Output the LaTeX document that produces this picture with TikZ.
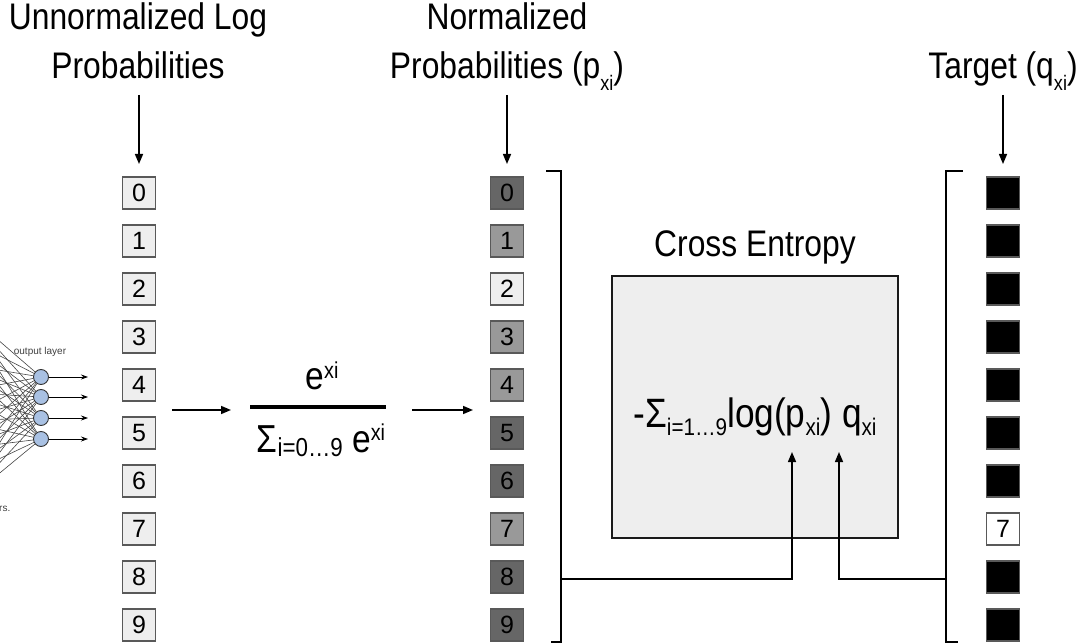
\documentclass[tikz,border=0pt]{standalone}
\usepackage{fontspec}
\setmainfont[FakeStretch=0.86]{Liberation Sans}
\newfontfamily\digitfont{Liberation Sans}
\usetikzlibrary{arrows.meta}

\definecolor{cellborder}{HTML}{595959}
\definecolor{cellpale}{HTML}{EEEEEE}
\definecolor{cellmid}{HTML}{999999}
\definecolor{celldark}{HTML}{666666}
\definecolor{neuron}{HTML}{A9C1E3}
\definecolor{wire}{HTML}{444444}

% text shifted down / up with its own size
\newcommand\lowered[3]{\raisebox{-#1}{\fontsize{#2}{#2}\selectfont #3}}
\newcommand\raised[3]{\raisebox{#1}{\fontsize{#2}{#2}\selectfont #3}}

\tikzset{
  heading/.style={anchor=base, inner sep=0pt, font=\fontsize{37}{37}\selectfont},
  cell/.style={draw=cellborder, line width=1.5pt, minimum width=33pt, minimum height=32pt,
    inner sep=0pt, font=\digitfont\fontsize{25}{25}\selectfont},
  flow/.style={line width=1.5pt, -{Triangle[length=10pt,width=8pt]}},
  bracket/.style={line width=2pt, line cap=rect},
  neuronnode/.style={circle, draw=black!80, fill=neuron, line width=0.9pt, minimum size=15pt, inner sep=0pt},
}

\begin{document}
\begin{tikzpicture}[x=1pt, y=-1pt]
\useasboundingbox (0,0) rectangle (1086,644);

% --- fragment of a network's output layer at the left edge ---
\begin{scope}
  \clip (0,0) rectangle (120,644);
  \foreach \j/\yy in {0/377,1/397,2/418,3/439}
    \node[neuronnode] (o\j) at (41,\yy) {};
  \foreach \k in {0,...,7}
    \coordinate (hid\k) at (-40,{307+28.4*\k});
  \foreach \k in {0,...,7}
    \foreach \j in {0,...,3}
      \draw[wire, line width=0.6pt] (hid\k) -- (o\j);
  \node[text=black!75, font=\digitfont\fontsize{10}{10}\selectfont, inner sep=0pt] (outlabel) at (40,352) {output layer};
  \node[anchor=base west, text=black!75, font=\digitfont\fontsize{10}{10}\selectfont, inner sep=0pt] (capfrag) at (-1,511) {rs.};
\end{scope}
\foreach \j/\yy in {0/377,1/397,2/418,3/439}{
  \coordinate (oe\j) at (88,\yy);
  \draw[line width=0.8pt, -{Stealth[length=7pt,width=5pt]}] (o\j) -- (oe\j);
}

% --- headings ---
\node[heading] (h1a) at (138,30) {Unnormalized Log};
\node[heading] (h1b) at (138,79) {Probabilities};
\node[heading] (h2a) at (507,30) {Normalized};
\node[heading] (h2b) at (507,79) {Probabilities (p\lowered{12pt}{21}{xi})};
\node[heading] (h3)  at (1003,79) {Target (q\lowered{12pt}{21}{xi})};

\coordinate (a1s) at (139,95);  \coordinate (a1e) at (139,164);
\coordinate (a2s) at (507,95);  \coordinate (a2e) at (507,164);
\coordinate (a3s) at (1003,95); \coordinate (a3e) at (1003,164);
\draw[flow] (a1s) -- (a1e);
\draw[flow] (a2s) -- (a2e);
\draw[flow] (a3s) -- (a3e);

% --- unnormalized column ---
\foreach \i in {0,...,9}
  \node[cell, fill=cellpale] (u\i) at (139,{193+48*\i}) {\i};

% --- normalized column ---
\foreach \i/\c in {0/celldark,1/cellmid,2/cellpale,3/cellmid,4/cellmid,
                   5/celldark,6/celldark,7/cellmid,8/celldark,9/celldark}
  \node[cell, fill=\c] (n\i) at (507,{193+48*\i}) {\i};

% --- target column (one-hot) ---
\foreach \i in {0,...,9}{
  \ifnum\i=7
    \node[cell, fill=white] (t\i) at (1003,{193+48*\i}) {\i};
  \else
    \node[cell, fill=black] (t\i) at (1003,{193+48*\i}) {};
  \fi
}

% --- softmax ---
\coordinate (s1s) at (172,410); \coordinate (s1e) at (231,410);
\coordinate (s2s) at (412,410); \coordinate (s2e) at (473,410);
\draw[flow] (s1s) -- (s1e);
\draw[flow] (s2s) -- (s2e);
\node[anchor=base, inner sep=0pt, font=\fontsize{39}{39}\selectfont] (num) at (322,389)
  {e\raised{11pt}{23}{xi}};
\draw[line width=4pt] (250,407) -- (386,407);
\node[anchor=base, inner sep=0pt, font=\fontsize{39}{39}\selectfont] (den) at (321,452)
  {Σ\lowered{4pt}{26}{i=0…9} e\raised{12pt}{23}{xi}};

% --- brackets ---
\draw[bracket] (547,171) -- (561,171) -- (561,642) -- (552,642);
\draw[bracket] (962,171) -- (946,171) -- (946,642) -- (957,642);
\coordinate (bl) at (561,579);
\coordinate (br) at (946,579);

% --- cross entropy ---
\node[heading] (cetitle) at (755,257) {Cross Entropy};
\node[draw=black!90, fill=cellpale, line width=1.5pt, minimum width=286pt, minimum height=262pt]
  (ce) at (755,407) {};
\node[anchor=base, inner sep=0pt, font=\fontsize{41}{41}\selectfont] (loss) at (755,427)
  {-Σ\lowered{8pt}{24}{i=1…9}log(p\lowered{8pt}{24}{xi}) q\lowered{8pt}{24}{xi}};
\coordinate (pin) at (792,452);
\coordinate (qin) at (839,452);
\draw[flow] (bl) -| (pin);
\draw[flow] (br) -| (qin);

\end{tikzpicture}
\end{document}
